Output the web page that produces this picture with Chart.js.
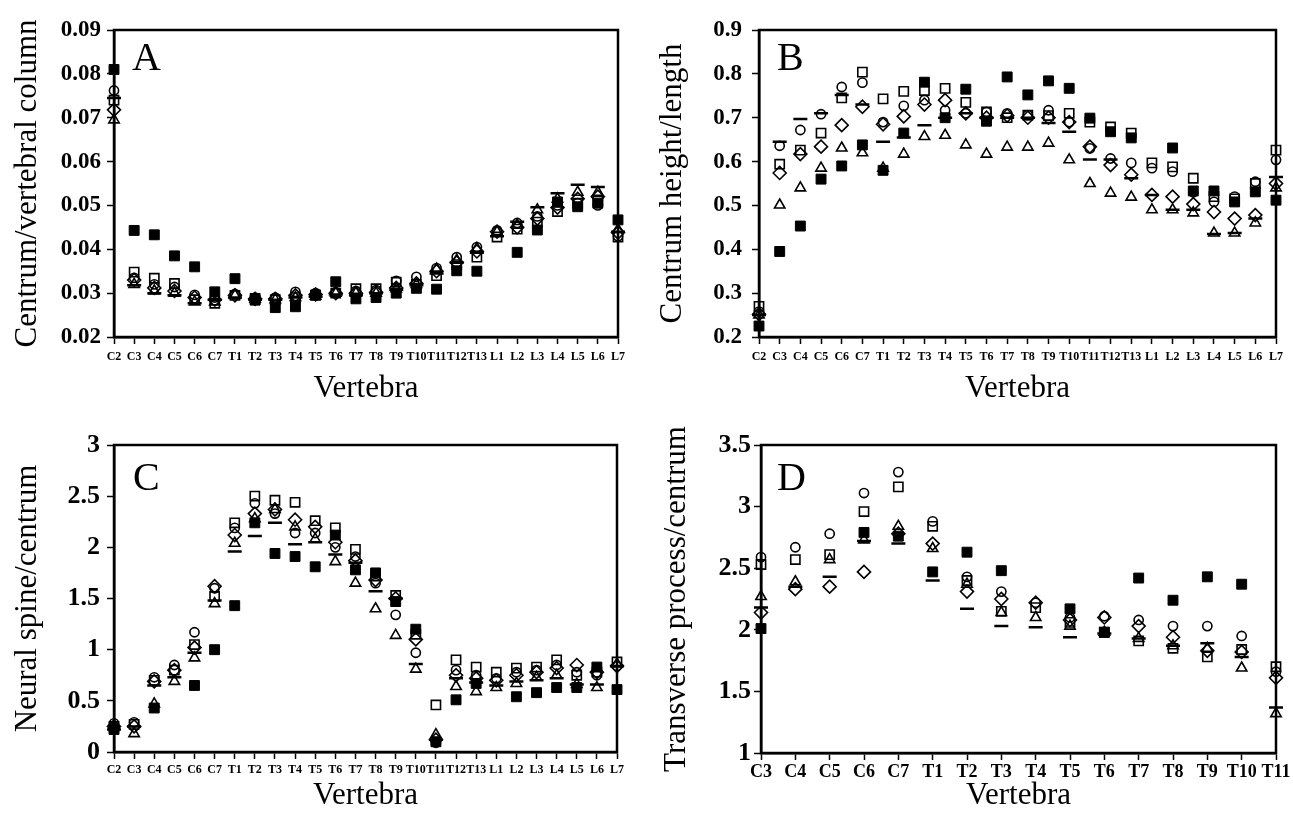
<!DOCTYPE html>
<html>
<head>
<meta charset="utf-8">
<script src="https://cdn.jsdelivr.net/npm/chart.js@4.4.1/dist/chart.umd.min.js"></script>
<style>
  html, body { margin: 0; padding: 0; background: #fff; }
  #page { position: relative; width: 1293px; height: 815px; overflow: hidden; background: #fff; }
  .panel { position: absolute; }
  canvas { display: block; }
</style>
</head>
<body>
<div id="page">
  <div class="panel" style="left:0;top:0"><canvas id="chartA" width="640" height="408"></canvas></div>
  <div class="panel" style="left:646px;top:0"><canvas id="chartB" width="647" height="408"></canvas></div>
  <div class="panel" style="left:0;top:415px"><canvas id="chartC" width="640" height="400"></canvas></div>
  <div class="panel" style="left:646px;top:415px"><canvas id="chartD" width="647" height="400"></canvas></div>
</div>
<script>
// vertebral positions
const vertebrae = ['C2','C3','C4','C5','C6','C7','T1','T2','T3','T4','T5','T6','T7','T8','T9','T10','T11','T12','T13','L1','L2','L3','L4','L5','L6','L7'];
const vertebraeD = ['C3','C4','C5','C6','C7','T1','T2','T3','T4','T5','T6','T7','T8','T9','T10','T11'];

// A: centrum / vertebral column
const filledA   = [0.0810,0.0443,0.0433,0.0385,0.0360,0.0303,0.0333,0.0284,0.0267,0.0269,0.0296,0.0326,0.0287,0.0290,0.0300,0.0311,0.0309,0.0351,0.0350,null,0.0393,0.0444,0.0508,0.0497,0.0505,0.0467];
const squareA   = [0.0740,0.0348,0.0334,0.0322,0.0285,0.0277,0.0295,0.0288,0.0285,0.0290,0.0295,0.0300,0.0310,0.0310,0.0325,0.0320,0.0340,0.0365,0.0382,0.0428,0.0446,0.0462,0.0486,0.0505,0.0510,0.0428];
const circleA   = [0.0762,0.0335,0.0320,0.0314,0.0296,0.0290,0.0298,0.0290,0.0290,0.0303,0.0300,0.0302,0.0305,0.0307,0.0328,0.0337,0.0357,0.0382,0.0405,0.0443,0.0460,0.0475,0.0500,0.0505,0.0500,0.0430];
const diamondA  = [0.0718,0.0330,0.0312,0.0305,0.0290,0.0285,0.0295,0.0287,0.0287,0.0295,0.0297,0.0300,0.0300,0.0302,0.0312,0.0322,0.0350,0.0370,0.0395,0.0440,0.0450,0.0470,0.0495,0.0515,0.0520,0.0438];
const triangleA = [0.0695,0.0320,0.0305,0.0300,0.0280,0.0280,0.0295,0.0286,0.0285,0.0290,0.0293,0.0300,0.0300,0.0300,0.0310,0.0320,0.0355,0.0375,0.0402,0.0440,0.0455,0.0490,0.0515,0.0530,0.0530,0.0445];
const dashA     = [0.0745,0.0318,0.0300,0.0295,0.0277,0.0285,0.0290,0.0285,0.0285,0.0290,0.0292,0.0297,0.0295,0.0300,0.0308,0.0318,0.0345,0.0370,0.0392,0.0430,0.0463,0.0496,0.0528,0.0547,0.0542,0.0440];

// B: centrum height / length
const filledB   = [0.225,0.395,0.453,0.560,0.590,0.638,0.580,0.665,0.781,0.700,0.765,0.692,0.793,0.752,0.784,0.767,0.699,0.668,0.654,null,0.631,0.533,0.533,0.508,0.531,0.512];
const squareB   = [0.270,0.594,0.626,0.665,0.745,0.804,0.743,0.760,0.762,0.767,0.735,0.713,0.700,0.706,0.705,0.710,0.690,0.679,0.665,0.597,0.588,0.562,0.520,0.515,0.550,0.626];
const circleB   = [0.258,0.636,0.672,0.708,0.770,0.780,0.690,0.727,0.740,0.717,0.710,0.713,0.710,0.706,0.717,0.690,0.630,0.607,0.597,0.585,0.577,0.530,0.508,0.520,0.554,0.604];
const diamondB  = [0.252,0.574,0.617,0.634,0.683,0.725,0.685,0.703,0.730,0.740,0.710,0.700,0.705,0.700,0.700,0.690,0.634,0.592,0.570,0.524,0.520,0.503,0.485,0.470,0.478,0.550];
const triangleB = [0.250,0.501,0.540,0.585,0.631,0.620,0.585,0.617,0.657,0.660,0.638,0.617,0.633,0.633,0.642,0.604,0.550,0.528,0.519,0.490,0.490,0.483,0.437,0.437,0.460,0.540];
const dashB     = [0.250,0.645,0.697,0.710,0.752,0.730,0.645,0.655,0.683,0.700,0.710,0.700,0.700,0.700,0.688,0.668,0.605,0.605,0.562,0.524,0.490,0.490,0.435,0.437,0.470,0.565];

// C: neural spine / centrum
const filledC   = [0.22,null,0.43,null,0.65,1.00,1.43,2.24,1.94,1.91,1.81,2.12,1.78,1.75,1.47,1.20,0.10,0.51,0.67,null,0.54,0.58,0.63,0.63,0.83,0.61];
const squareC   = [0.25,0.27,0.70,0.80,1.05,1.52,2.24,2.50,2.46,2.44,2.26,2.19,1.98,1.72,1.53,1.15,0.46,0.90,0.83,0.78,0.82,0.83,0.90,0.75,0.78,0.88];
const circleC   = [0.28,0.29,0.73,0.85,1.17,1.60,2.19,2.43,2.33,2.14,2.14,2.00,1.91,1.65,1.34,0.97,0.09,0.80,0.75,0.72,0.78,0.80,0.85,0.78,0.75,0.84];
const diamondC  = [0.25,0.25,0.69,0.80,1.02,1.62,2.12,2.33,2.37,2.27,2.20,2.05,1.87,1.68,1.50,1.10,0.12,0.75,0.72,0.70,0.75,0.78,0.82,0.85,0.78,0.84];
const triangleC = [0.25,0.18,0.47,0.69,0.92,1.45,2.04,2.28,2.37,2.20,2.08,1.86,1.65,1.40,1.14,0.81,0.17,0.64,0.59,0.63,0.67,0.73,0.75,0.66,0.63,0.86];
const dashC     = [0.22,0.25,0.65,0.73,0.97,1.48,1.96,2.11,2.24,2.03,2.05,1.93,1.85,1.57,1.50,0.86,0.12,0.72,0.68,0.65,0.69,0.70,0.72,0.66,0.66,0.84];

// D: transverse process / centrum
const filledD   = [2.01,null,null,2.79,2.76,2.47,2.63,2.48,null,2.17,1.98,2.42,2.24,2.43,2.37,null];
const squareD   = [2.53,2.57,2.61,2.96,3.16,2.84,2.40,2.15,2.18,2.06,1.98,1.91,1.85,1.78,1.84,1.70];
const circleD   = [2.59,2.67,2.78,3.11,3.28,2.88,2.43,2.31,2.22,2.10,2.11,2.08,2.03,2.03,1.95,1.66];
const diamondD  = [2.14,2.33,2.35,2.47,2.78,2.70,2.31,2.25,2.22,2.08,2.10,2.03,1.94,1.83,1.82,1.61];
const triangleD = [2.27,2.39,2.57,2.73,2.84,2.66,2.37,2.14,2.10,2.03,1.98,1.93,1.87,1.85,1.69,1.32];
const dashD     = [2.18,2.35,2.43,2.72,2.70,2.40,2.17,2.03,2.02,1.94,1.97,1.93,1.87,1.89,1.78,1.37];

const SERIF = '"Liberation Serif", "Times New Roman", serif';
const INK = '#000';

// one marker style per series; first dataset is drawn on top
const markers = [
  { pointStyle: 'line',     pointRadius: 7,   pointBorderWidth: 2.5, pointBackgroundColor: 'rgba(0,0,0,0)' },
  { pointStyle: 'triangle', pointRadius: 6,   pointBorderWidth: 1.6, pointBackgroundColor: 'rgba(0,0,0,0)' },
  { pointStyle: 'rectRot',  pointRadius: 6.5, pointBorderWidth: 1.6, pointBackgroundColor: 'rgba(0,0,0,0)' },
  { pointStyle: 'circle',   pointRadius: 4.6, pointBorderWidth: 1.6, pointBackgroundColor: 'rgba(0,0,0,0)' },
  { pointStyle: 'rect',     pointRadius: 6.5, pointBorderWidth: 1.6, pointBackgroundColor: 'rgba(0,0,0,0)' },
  { pointStyle: 'rect',     pointRadius: 7,   pointBorderWidth: 1,   pointBackgroundColor: INK }
];

const framePlugin = {
  id: 'frame',
  beforeDatasetsDraw(chart) {
    const { ctx, chartArea: a } = chart;
    ctx.save();
    ctx.strokeStyle = INK;
    ctx.lineWidth = 2.5;
    ctx.strokeRect(a.left, a.top, a.right - a.left, a.bottom - a.top);
    ctx.restore();
  }
};

const letterPlugin = {
  id: 'panelLetter',
  afterDraw(chart, args, opts) {
    const { ctx, chartArea: a } = chart;
    ctx.save();
    ctx.fillStyle = INK;
    ctx.font = '40px ' + SERIF;
    ctx.textBaseline = 'alphabetic';
    ctx.fillText(opts.text, a.left + opts.dx, a.top + opts.dy);
    ctx.restore();
  }
};

function makePanel(id, cfg) {
  const datasets = cfg.series.map((data, i) => Object.assign({
    data,
    showLine: false,
    pointBorderColor: INK,
    pointHoverRadius: 0
  }, markers[i]));

  new Chart(document.getElementById(id), {
    type: 'line',
    data: { labels: cfg.labels, datasets },
    plugins: [framePlugin, letterPlugin],
    options: {
      responsive: false,
      animation: false,
      devicePixelRatio: 1,
      layout: { padding: { top: 30, right: cfg.padRight, left: 0, bottom: 0 } },
      plugins: {
        legend: { display: false },
        tooltip: { enabled: false },
        panelLetter: { text: cfg.letter, dx: cfg.letterDx, dy: cfg.letterDy }
      },
      scales: {
        x: {
          type: 'category',
          offset: false,
          afterFit: s => { s.height = cfg.xHeight; },
          grid: { drawOnChartArea: false, drawTicks: true, tickLength: 7, tickColor: INK, tickWidth: 1.5 },
          border: { display: true, color: INK, width: 2.5 },
          ticks: {
            autoSkip: false, maxRotation: 0, minRotation: 0,
            padding: cfg.xTickPad, color: INK,
            font: { family: SERIF, weight: 'bold', size: cfg.xTickSize }
          },
          title: {
            display: true, text: 'Vertebra', color: INK,
            font: { family: SERIF, size: 31 },
            padding: { top: 0, bottom: 1 }
          }
        },
        y: {
          min: cfg.yMin, max: cfg.yMax,
          afterFit: s => { s.width = cfg.yWidth; },
          grid: { drawOnChartArea: false, drawTicks: true, tickLength: 7, tickColor: INK, tickWidth: 1.5 },
          border: { display: true, color: INK, width: 2.5 },
          ticks: {
            stepSize: cfg.yStep, padding: cfg.yTickPad, color: INK,
            font: { family: SERIF, weight: 'bold', size: cfg.yTickSize },
            callback: cfg.yFormat
          },
          title: {
            display: true, text: cfg.yTitle, color: INK,
            font: { family: SERIF, size: 31 },
            padding: { top: cfg.yTitlePad, bottom: 0 }
          }
        }
      }
    }
  });
}

const trim = v => String(+v.toFixed(1));

makePanel('chartA', {
  labels: vertebrae, letter: 'A', letterDx: 18, letterDy: 40,
  series: [dashA, triangleA, diamondA, circleA, squareA, filledA],
  yMin: 0.02, yMax: 0.09, yStep: 0.01, yFormat: v => v.toFixed(2),
  yTitle: 'Centrum/vertebral column', yTitlePad: 9, yWidth: 114, yTickPad: 6, yTickSize: 23,
  xHeight: 71, xTickPad: 6, xTickSize: 12, padRight: 22
});

makePanel('chartB', {
  labels: vertebrae, letter: 'B', letterDx: 18, letterDy: 40,
  series: [dashB, triangleB, diamondB, circleB, squareB, filledB],
  yMin: 0.2, yMax: 0.9, yStep: 0.1, yFormat: v => v.toFixed(1),
  yTitle: 'Centrum height/length', yTitlePad: 8, yWidth: 113, yTickPad: 10, yTickSize: 23,
  xHeight: 71, xTickPad: 6, xTickSize: 12, padRight: 17
});

makePanel('chartC', {
  labels: vertebrae, letter: 'C', letterDx: 19, letterDy: 45,
  series: [dashC, triangleC, diamondC, circleC, squareC, filledC],
  yMin: 0, yMax: 3, yStep: 0.5, yFormat: trim,
  yTitle: 'Neural spine/centrum', yTitlePad: 9, yWidth: 114, yTickPad: 7, yTickSize: 26,
  xHeight: 63, xTickPad: 4, xTickSize: 12, padRight: 23
});

makePanel('chartD', {
  labels: vertebraeD, letter: 'D', letterDx: 16, letterDy: 45,
  series: [dashD, triangleD, diamondD, circleD, squareD, filledD],
  yMin: 1, yMax: 3.5, yStep: 0.5, yFormat: trim,
  yTitle: 'Transverse process/centrum', yTitlePad: 12, yWidth: 115, yTickPad: 3, yTickSize: 26,
  xHeight: 62, xTickPad: 2, xTickSize: 18, padRight: 17
});
</script>
</body>
</html>
